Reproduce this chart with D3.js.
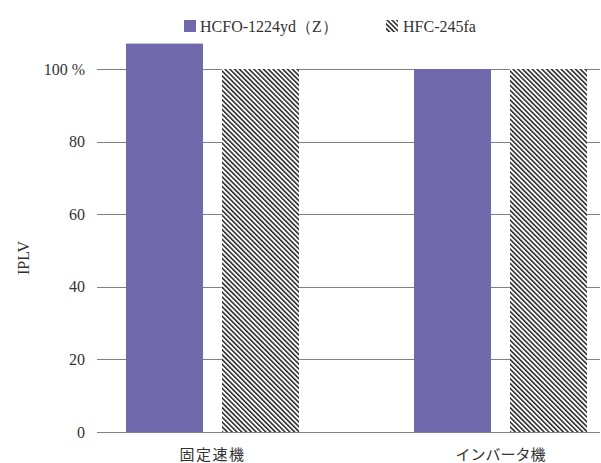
<!DOCTYPE html>
<html>
<head>
<meta charset="utf-8">
<script src="https://cdn.jsdelivr.net/npm/d3@7/dist/d3.min.js"></script>
<style>
  html, body { margin: 0; padding: 0; background: #fff; }
  svg text { fill: #333; }
  .lat { font-family: "Liberation Serif", "DejaVu Serif", serif; }
  .jp { font-family: "Noto Sans CJK JP", sans-serif; }
</style>
</head>
<body>
<svg id="chart" width="601" height="463"></svg>
<script>
// Machine types on the x axis
const categories = ["固定速機", "インバータ機"];
// Refrigerants compared in each group
const seriesNames = ["HCFO-1224yd（Z）", "HFC-245fa"];
// IPLV relative to HFC-245fa (%)
const hcfoValues = [107, 100];
const hfcValues = [100, 100];
// Y axis ticks and labels
const yTicks = [0, 20, 40, 60, 80, 100];
const yTickLabels = ["0", "20", "40", "60", "80", "100 %"];

const svg = d3.select("#chart");
const colors = ["#706aad", "url(#hatch)"];

// Diagonal hatch for the HFC-245fa bars
const defs = svg.append("defs");
const pat = defs.append("pattern")
  .attr("id", "hatch")
  .attr("patternUnits", "userSpaceOnUse")
  .attr("width", 3.4).attr("height", 10)
  .attr("patternTransform", "rotate(-45)");
pat.append("rect").attr("width", 3.4).attr("height", 10).attr("fill", "#fff");
pat.append("rect").attr("width", 1.5).attr("height", 10).attr("fill", "#222");

const plotLeft = 97, plotRight = 600;
const x0 = d3.scaleBand().domain(categories).range([68.5, 644.5]).padding(0);
const x1 = d3.scaleBand().domain(seriesNames).range([-86.5, 86.5]).paddingInner(0.198).paddingOuter(0);
const y = d3.scaleLinear().domain([0, 100]).range([432, 69]);

// Gridlines (including the baseline)
svg.append("g").selectAll("line").data(yTicks).join("line")
  .attr("x1", plotLeft).attr("x2", plotRight)
  .attr("y1", d => Math.round(y(d)) + 0.5).attr("y2", d => Math.round(y(d)) + 0.5)
  .attr("stroke", "#808080").attr("stroke-width", 1);

// Y tick labels
svg.append("g").selectAll("text").data(yTicks).join("text")
  .attr("class", "lat")
  .attr("x", 85).attr("y", d => y(d))
  .attr("dy", "0.35em")
  .attr("text-anchor", "end")
  .attr("font-size", 16)
  .text((d, i) => yTickLabels[i]);

// Bars
const seriesValues = [hcfoValues, hfcValues];
const groups = svg.append("g").selectAll("g").data(categories).join("g")
  .attr("transform", d => `translate(${x0(d) + x0.bandwidth() / 2},0)`);
groups.selectAll("rect")
  .data((c, ci) => seriesNames.map((s, si) => ({ s, si, v: seriesValues[si][ci] })))
  .join("rect")
  .attr("x", d => x1(d.s))
  .attr("width", x1.bandwidth())
  .attr("y", d => y(d.v))
  .attr("height", d => y(0) - y(d.v))
  .attr("fill", d => colors[d.si]);

// Category labels
svg.append("g").selectAll("text").data(categories).join("text")
  .attr("class", "jp")
  .attr("x", d => x0(d) + x0.bandwidth() / 2)
  .attr("y", 460)
  .attr("text-anchor", "middle")
  .attr("font-size", 15)
  .attr("letter-spacing", (d, i) => i === 0 ? 1.5 : 0)
  .text(d => d);

// Y axis title
svg.append("text")
  .attr("class", "lat")
  .attr("transform", "translate(29,258) rotate(-90)")
  .attr("text-anchor", "middle")
  .attr("font-size", 16)
  .text("IPLV");

// Legend
const legendX = [184, 386];
const leg = svg.append("g").selectAll("g").data(seriesNames).join("g")
  .attr("transform", (d, i) => `translate(${legendX[i]},20)`);
leg.append("rect")
  .attr("width", 12).attr("height", 12)
  .attr("fill", (d, i) => colors[i]);
leg.append("text")
  .attr("class", "lat")
  .attr("x", (d, i) => i === 0 ? 16 : 17)
  .attr("y", 11.5)
  .attr("font-size", 16)
  .text(d => d);
</script>
</body>
</html>
